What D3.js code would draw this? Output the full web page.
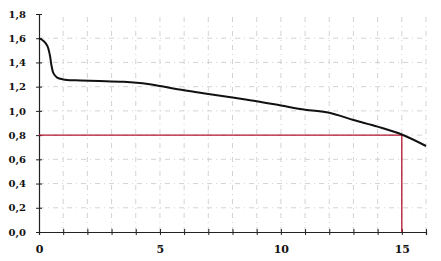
<!DOCTYPE html>
<html>
<head>
<meta charset="utf-8">
<script src="https://cdn.jsdelivr.net/npm/d3@7"></script>
<style>
  body { margin: 0; background: #fff; }
  .tick text { font-family: "DejaVu Serif", serif; font-weight: bold; font-size: 10px; fill: #111; }
</style>
</head>
<body>
<svg></svg>
<script>
const width = 441;
const height = 261;

// curve
const xValues = [0, 0.2, 0.35, 0.45, 0.52, 0.6, 0.75, 1, 1.5, 2.5, 3.5, 4.5, 5, 6, 7, 8, 9, 10, 11, 12, 13, 14, 15, 16];
const yValues = [1.6, 1.575, 1.535, 1.46, 1.37, 1.31, 1.275, 1.26, 1.252, 1.247, 1.24, 1.222, 1.205, 1.17, 1.14, 1.11, 1.08, 1.045, 1.01, 0.985, 0.925, 0.87, 0.805, 0.71];

const xTicks = d3.range(0, 17);
const xLabels = [0, 5, 10, 15];
const yTicks = [0, 0.2, 0.4, 0.6, 0.8, 1.0, 1.2, 1.4, 1.6, 1.8];

// red guide: level 0.8 reached at 15
const markX = 15;
const markY = 0.8;

const svg = d3.select("svg").attr("width", width).attr("height", height);

const xScale = d3.scaleLinear().domain([0, 16]).range([39, 426]);
const yScale = d3.scaleLinear().domain([0, 1.8]).range([232, 14]);

// dash-dot grid
const grid = svg.append("g")
  .attr("stroke", "#888")
  .attr("stroke-width", 0.8)
  .attr("stroke-dasharray", "5,4,1,4")
  .attr("opacity", 0.45);

grid.selectAll(".h")
  .data(yTicks.filter(d => d > 0 && d < 1.8))
  .enter()
  .append("line")
  .attr("x1", xScale(0))
  .attr("x2", xScale(16))
  .attr("y1", d => yScale(d))
  .attr("y2", d => yScale(d));

grid.selectAll(".v")
  .data(xTicks.filter(d => d > 0))
  .enter()
  .append("line")
  .attr("x1", d => xScale(d))
  .attr("x2", d => xScale(d))
  .attr("y1", yScale(0))
  .attr("y2", yScale(1.8));

const xAxis = d3.axisBottom(xScale)
  .tickValues(xTicks)
  .tickSize(3)
  .tickPadding(10)
  .tickFormat(d => xLabels.includes(d) ? d : "");

const yAxis = d3.axisLeft(yScale)
  .tickValues(yTicks)
  .tickSize(3)
  .tickPadding(10)
  .tickFormat(d => d3.format(".1f")(d).replace(".", ","));

const gx = svg.append("g")
  .attr("transform", "translate(0," + yScale(0) + ")")
  .call(xAxis);
gx.selectAll(".tick line").attr("y1", -3).attr("y2", 3);

const gy = svg.append("g")
  .attr("transform", "translate(" + xScale(0) + ",0)")
  .call(yAxis);
gy.selectAll(".tick line").attr("x1", -3).attr("x2", 3);

svg.selectAll(".domain").attr("stroke", "#222").attr("stroke-width", 1.2);
svg.selectAll(".tick line").attr("stroke", "#222").attr("stroke-width", 1);
gx.selectAll(".tick text").style("font-size", "11px");

// red guide lines
svg.append("path")
  .attr("fill", "none")
  .attr("stroke", "#b5122e")
  .attr("stroke-width", 1.3)
  .attr("d", d3.line()([
    [xScale(0), yScale(markY)],
    [xScale(markX), yScale(markY)],
    [xScale(markX), yScale(0)]
  ]));

// main curve
const points = xValues.map((x, i) => [x, yValues[i]]);
const line = d3.line()
  .x(d => xScale(d[0]))
  .y(d => yScale(d[1]))
  .curve(d3.curveCatmullRom.alpha(0.5));

svg.append("path")
  .datum(points)
  .attr("fill", "none")
  .attr("stroke", "#111")
  .attr("stroke-width", 2)
  .attr("d", line);
</script>
</body>
</html>
